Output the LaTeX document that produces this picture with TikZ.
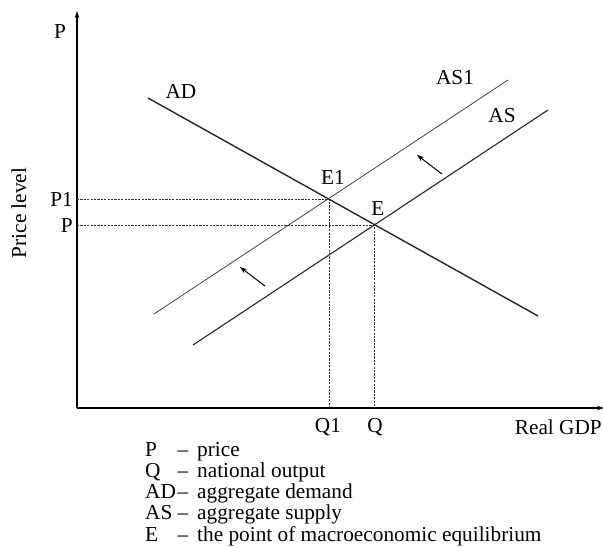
\documentclass[tikz,border=0pt]{standalone}
\usepackage{fontspec}
\setmainfont{Liberation Serif}
\usetikzlibrary{arrows.meta}
\begin{document}
\begin{tikzpicture}[x=1pt,y=-1pt,
  lbl/.style={font=\fontsize{21.3}{22}\selectfont, inner sep=0pt},
  axis/.style={line width=1.1pt, -{Stealth[length=7pt,width=4.5pt]}},
  guide/.style={line width=0.6pt, dash pattern=on 2.2pt off 1.2pt, black!80},
  curveAD/.style={line width=1.4pt, black!85},
  curveAS/.style={line width=1.1pt, black!85},
  curveASi/.style={line width=0.8pt, black!75},
  shiftarrow/.style={line width=1pt, -{Stealth[length=7pt,width=5pt]}}]
\useasboundingbox (0,0) rectangle (603,547);
% axes
\coordinate (O) at (77,408);
\coordinate (Ytop) at (77,11);
\coordinate (Xend) at (604,408);
\draw[axis] (O) -- (Ytop);
\draw[axis] (O) -- (Xend);
% points
\coordinate (E1) at (329,199);
\coordinate (E) at (374,225);
\coordinate (P1y) at (77,199);
\coordinate (Py) at (77,225);
\coordinate (Q1x) at (329,408);
\coordinate (Qx) at (374,408);
% guides
\draw[guide] (P1y) -- (E1) -- (Q1x);
\draw[guide] (Py) -- (E) -- (Qx);
% curves
\coordinate (ADs) at (148,98);
\coordinate (ADe) at (538,316);
\coordinate (ASs) at (193,345);
\coordinate (ASe) at (548,110);
\coordinate (AS1s) at (154,314);
\coordinate (AS1e) at (508,80);
\draw[curveAD] (ADs) -- (ADe);
\draw[curveAS] (ASs) -- (ASe);
\draw[curveASi] (AS1s) -- (AS1e);
% shift arrows
\coordinate (a1s) at (442,174);
\coordinate (a1e) at (417,155);
\coordinate (a2s) at (265,286);
\coordinate (a2e) at (240,267);
\draw[shiftarrow] (a1s) -- (a1e);
\draw[shiftarrow] (a2s) -- (a2e);
% labels
\node[lbl] (lP) at (60,32) {P};
\node[lbl, rotate=90, anchor=base] (lPL) at (26,213) {Price level};
\node[lbl, anchor=base east] (lP1) at (73,206) {P1};
\node[lbl, anchor=base east] (lP0) at (73,232) {P};
\node[lbl] (lAD) at (181,91) {AD};
\node[lbl] (lAS1) at (455,78) {AS1};
\node[lbl] (lAS) at (502,116) {AS};
\node[lbl] (lE1) at (333,177) {E1};
\node[lbl] (lE) at (378,209) {E};
\node[lbl] (lQ1) at (328,427) {Q1};
\node[lbl] (lQ) at (375,427) {Q};
\node[lbl, anchor=east] (lGDP) at (602,427) {Real GDP};
% legend
\foreach \k/\d [count=\i] in {P/price, Q/national output, AD/aggregate demand, AS/aggregate supply, E/the point of macroeconomic equilibrium}{
  \node[lbl, anchor=base west] (k\i) at (145,{456+21.3*(\i-1)}) {\k};
  \node[lbl, anchor=base west] (s\i) at (177.5,{456+21.3*(\i-1)}) {--};
  \node[lbl, anchor=base west] (d\i) at (197,{456+21.3*(\i-1)}) {\d};
}
\end{tikzpicture}
\end{document}
